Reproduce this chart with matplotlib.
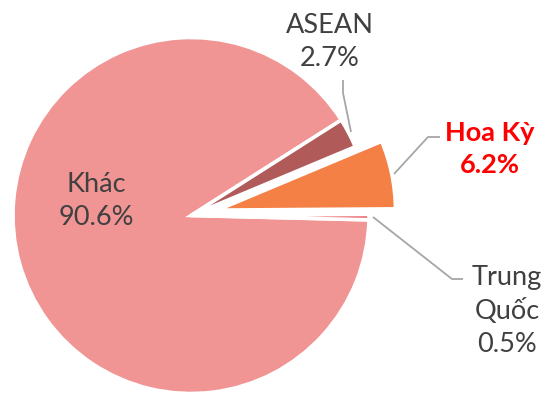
import matplotlib.pyplot as plt

# thị phần theo thị trường (%)
labels = ["Khác", "ASEAN", "Hoa Kỳ", "Trung Quốc"]
shares = [90.6, 2.7, 6.2, 0.5]
colors = ["#F19494", "#B05A5A", "#F58045", "#EC7C7E"]

W, H = 549, 395

fig = plt.figure(figsize=(W / 100, H / 100), dpi=100)
ax = fig.add_axes([0, 0, 1, 1])

ax.pie(shares, colors=colors, startangle=-1.4, counterclock=False,
       explode=[0, 0, 27, 0], radius=178, center=(191, H - 215.5),
       wedgeprops=dict(edgecolor="white", linewidth=2.6))
ax.set_xlim(0, W)
ax.set_ylim(0, H)
ax.set_aspect("equal")
ax.axis("off")

font = ["Lato", "Noto Sans"]
grey = "#404040"
line_col = "#A6A6A6"


def label_text(x, y, name, value, **kw):
    ax.text(x, H - y, f"{name}\n{value:.1f}%", ha="center", va="center",
            fontsize=19.5, family=font, linespacing=1.4, **kw)


label_text(96, 201, labels[0], shares[0], color=grey)
label_text(330, 42, labels[1], shares[1], color=grey)
label_text(490, 149, labels[2], shares[2], color="#FF0000", fontweight="bold")
label_text(507, 311, "Trung\nQuốc", shares[3], color=grey)

# đường dẫn nhãn
leaders = [
    [(343, 80), (343, 93), (351, 132)],
    [(394, 174), (428, 137), (440, 137)],
    [(373, 217), (452, 279), (463, 279)],
]
for pts in leaders:
    xs = [p[0] for p in pts]
    ys = [H - p[1] for p in pts]
    ax.plot(xs, ys, color=line_col, lw=1.3, solid_capstyle="butt")

fig.savefig("out.png", dpi=100)
